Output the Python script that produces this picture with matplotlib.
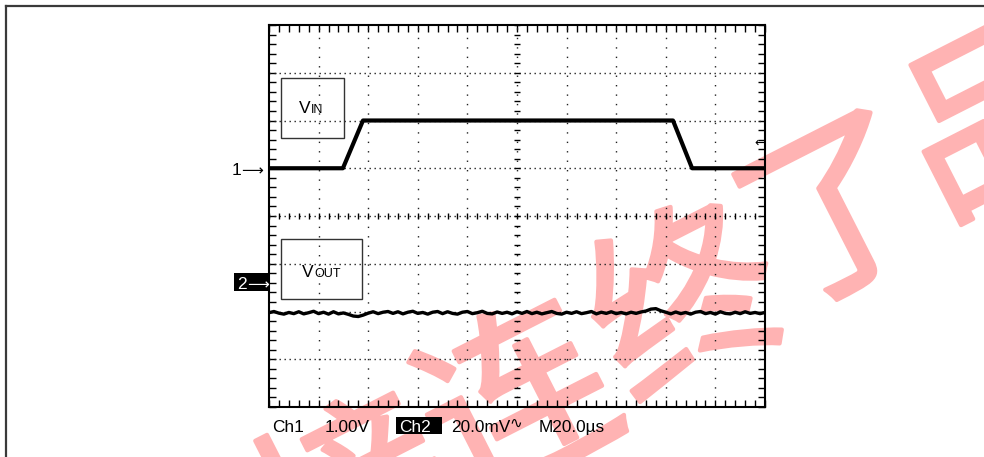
import numpy as np
import matplotlib
matplotlib.use("Agg")
import matplotlib.pyplot as plt
import matplotlib.patheffects as pe
from matplotlib.lines import Line2D
from matplotlib.patches import Rectangle

plt.rcParams['font.family'] = ['Liberation Sans', 'DejaVu Sans']

# ---- scope settings ----
time_per_div = 20.0      # us/div
ch1_volts_per_div = 1.0  # V/div
ch2_mv_per_div = 20.0    # mV/div
ch1_ground_div = 5.0     # divisions from bottom
ch2_ground_div = 2.6
trigger_level_v = 0.53

# ---- channel 1 : input pulse (V) ----
ch1_t = [0.0, 29.8, 37.9, 162.9, 170.6, 200.0]
ch1_v = [0.0, 0.0, 1.0, 1.0, 0.0, 0.0]

# ---- channel 2 : output ripple (mV), one sample every 2 us ----
ch2_t = list(np.arange(0, 201, 2))
ch2_mv = [-12.5, -12.0, -12.7, -13.1, -12.4, -12.9, -12.1, -13.0, -12.5, -11.9,
          -12.9, -12.3, -13.1, -12.1, -13.0, -12.6, -13.2, -13.9, -14.1, -13.5,
          -12.7, -12.1, -12.9, -12.3, -12.0, -12.8, -12.1, -13.0, -12.3, -11.9,
          -12.8, -12.4, -13.1, -12.3, -12.0, -12.9, -12.1, -12.8, -13.1, -12.3,
          -12.0, -12.9, -12.5, -11.9, -12.8, -13.0, -12.2, -12.8, -12.3, -13.0,
          -12.1, -12.8, -12.0, -12.9, -12.3, -13.0, -12.5, -12.0, -12.8, -13.1,
          -12.3, -12.8, -12.1, -12.9, -12.5, -12.0, -13.0, -12.3, -12.8, -12.1,
          -12.9, -12.4, -13.0, -12.3, -12.8, -12.2, -11.8, -11.0, -10.8, -11.7,
          -12.3, -13.0, -12.2, -12.9, -12.4, -13.1, -12.3, -12.0, -12.9, -12.4,
          -13.1, -12.1, -12.8, -13.0, -12.3, -12.9, -12.1, -12.8, -12.4, -12.9,
          -12.4]

W, H = 984, 457
fig = plt.figure(figsize=(W / 100, H / 100), dpi=100)


def px(x, y):
    return x / W, 1 - y / H


# outer frame (only top and left edges fall inside the image)
fig.add_artist(Line2D([6 / W, 1], [1 - 6 / H, 1 - 6 / H], color='#3a3a3a', lw=1.6))
fig.add_artist(Line2D([6 / W, 6 / W], [0, 1 - 6 / H], color='#3a3a3a', lw=1.6))

ax = fig.add_axes([269 / W, 1 - 407 / H, 496 / W, 382 / H])
ax.patch.set_visible(False)  # let the watermark show through the screen
ax.set_xlim(0, 10 * time_per_div)
ax.set_ylim(0, 8)
for s in ax.spines.values():
    s.set_linewidth(1.5)
    s.set_color('black')

# border ticks, 5 per division
ax.set_xticks(np.arange(0, 10 * time_per_div + 0.01, time_per_div / 5))
ax.set_yticks(np.arange(0, 8.01, 0.2))
ax.tick_params(direction='in', length=5, width=1, top=True, right=True,
               labelbottom=False, labelleft=False)

# dotted graticule
for i in range(1, 10):
    ax.axvline(i * time_per_div, color='#222222', lw=1.0, ls=(0, (1, 5.8)))
for j in range(1, 8):
    ax.axhline(j, color='#222222', lw=1.0, ls=(0, (1, 2.6)))

# centre crosshair ticks
xs = np.arange(0, 10 * time_per_div + 0.01, time_per_div / 5)
ax.plot(xs, [4] * len(xs), ls='none', marker='|', ms=5, mew=1, color='black')
ys = np.arange(0, 8.01, 0.2)
ax.plot([5 * time_per_div] * len(ys), ys, ls='none', marker='_', ms=5, mew=1, color='black')

# traces
ch1_div = [ch1_ground_div + v / ch1_volts_per_div for v in ch1_v]
ax.plot(ch1_t, ch1_div, color='black', lw=3.0, solid_joinstyle='round', zorder=5)
ch2_div = [ch2_ground_div + v / ch2_mv_per_div for v in ch2_mv]
ax.plot(ch2_t, ch2_div, color='black', lw=2.4, solid_joinstyle='round', zorder=5)

# trigger level marker
ax.text(9.9 * time_per_div, ch1_ground_div + trigger_level_v, '\u2190', fontsize=9,
        ha='center', va='center', family=['DejaVu Sans'])

# signal name boxes
fig.add_artist(Rectangle(px(281, 138), 63 / W, 60 / H, fill=False, ec='#333333', lw=1.0))
fig.text(*px(311, 113), 'V', fontsize=12.5, ha='right', va='baseline')
fig.text(*px(311, 113), 'IN', fontsize=9, ha='left', va='baseline')
fig.add_artist(Rectangle(px(281, 299), 81 / W, 60 / H, fill=False, ec='#333333', lw=1.0))
fig.text(*px(314, 277), 'V', fontsize=12.5, ha='right', va='baseline')
fig.text(*px(314, 277), 'OUT', fontsize=9, ha='left', va='baseline')

# channel ground markers
fig.text(*px(232, 175), '1', fontsize=12.5, ha='left', va='baseline')
fig.text(*px(241, 175), '\u27f6', fontsize=11, ha='left', va='baseline',
         family=['DejaVu Sans'])
fig.add_artist(Rectangle(px(234, 291), 34 / W, 18 / H, fc='black', ec='none'))
fig.text(*px(237, 289), '2', fontsize=12.5, ha='left', va='baseline', color='white')
fig.text(*px(247, 289), '\u27f6', fontsize=11, ha='left', va='baseline', color='white',
         family=['DejaVu Sans'])

# readout line
fig.text(*px(272, 432), 'Ch1', fontsize=12.4, ha='left', va='baseline')
fig.text(*px(325, 432), '1.00V', fontsize=12.4, ha='left', va='baseline')
fig.add_artist(Rectangle(px(396, 434), 46 / W, 17 / H, fc='black', ec='none'))
fig.text(*px(399, 432), 'Ch2', fontsize=12.4, ha='left', va='baseline', color='white')
fig.text(*px(451, 432), '20.0mV', fontsize=12.4, ha='left', va='baseline')
fig.text(*px(509, 428), '\u223f', fontsize=11, ha='left', va='baseline',
         family=['DejaVu Sans'])
fig.text(*px(539, 432), 'M20.0\u00b5s', fontsize=12.4, ha='left', va='baseline')

# watermark, drawn behind the screen contents
wm_color = '#ffb3b3'
wm_chars = ['接', '连', '终', '了', '品']
wm_x = [360, 522, 690, 842, 1000]
wm_y = [505, 412, 312, 220, 128]
for c, x, y in zip(wm_chars, wm_x, wm_y):
    fig.text(*px(x, y), c, fontsize=136, rotation=27, ha='center', va='center',
             color=wm_color, family=['Noto Sans CJK SC'], zorder=-1,
             path_effects=[pe.Stroke(linewidth=3, foreground=wm_color), pe.Normal()])

fig.savefig('out.png', dpi=100)
